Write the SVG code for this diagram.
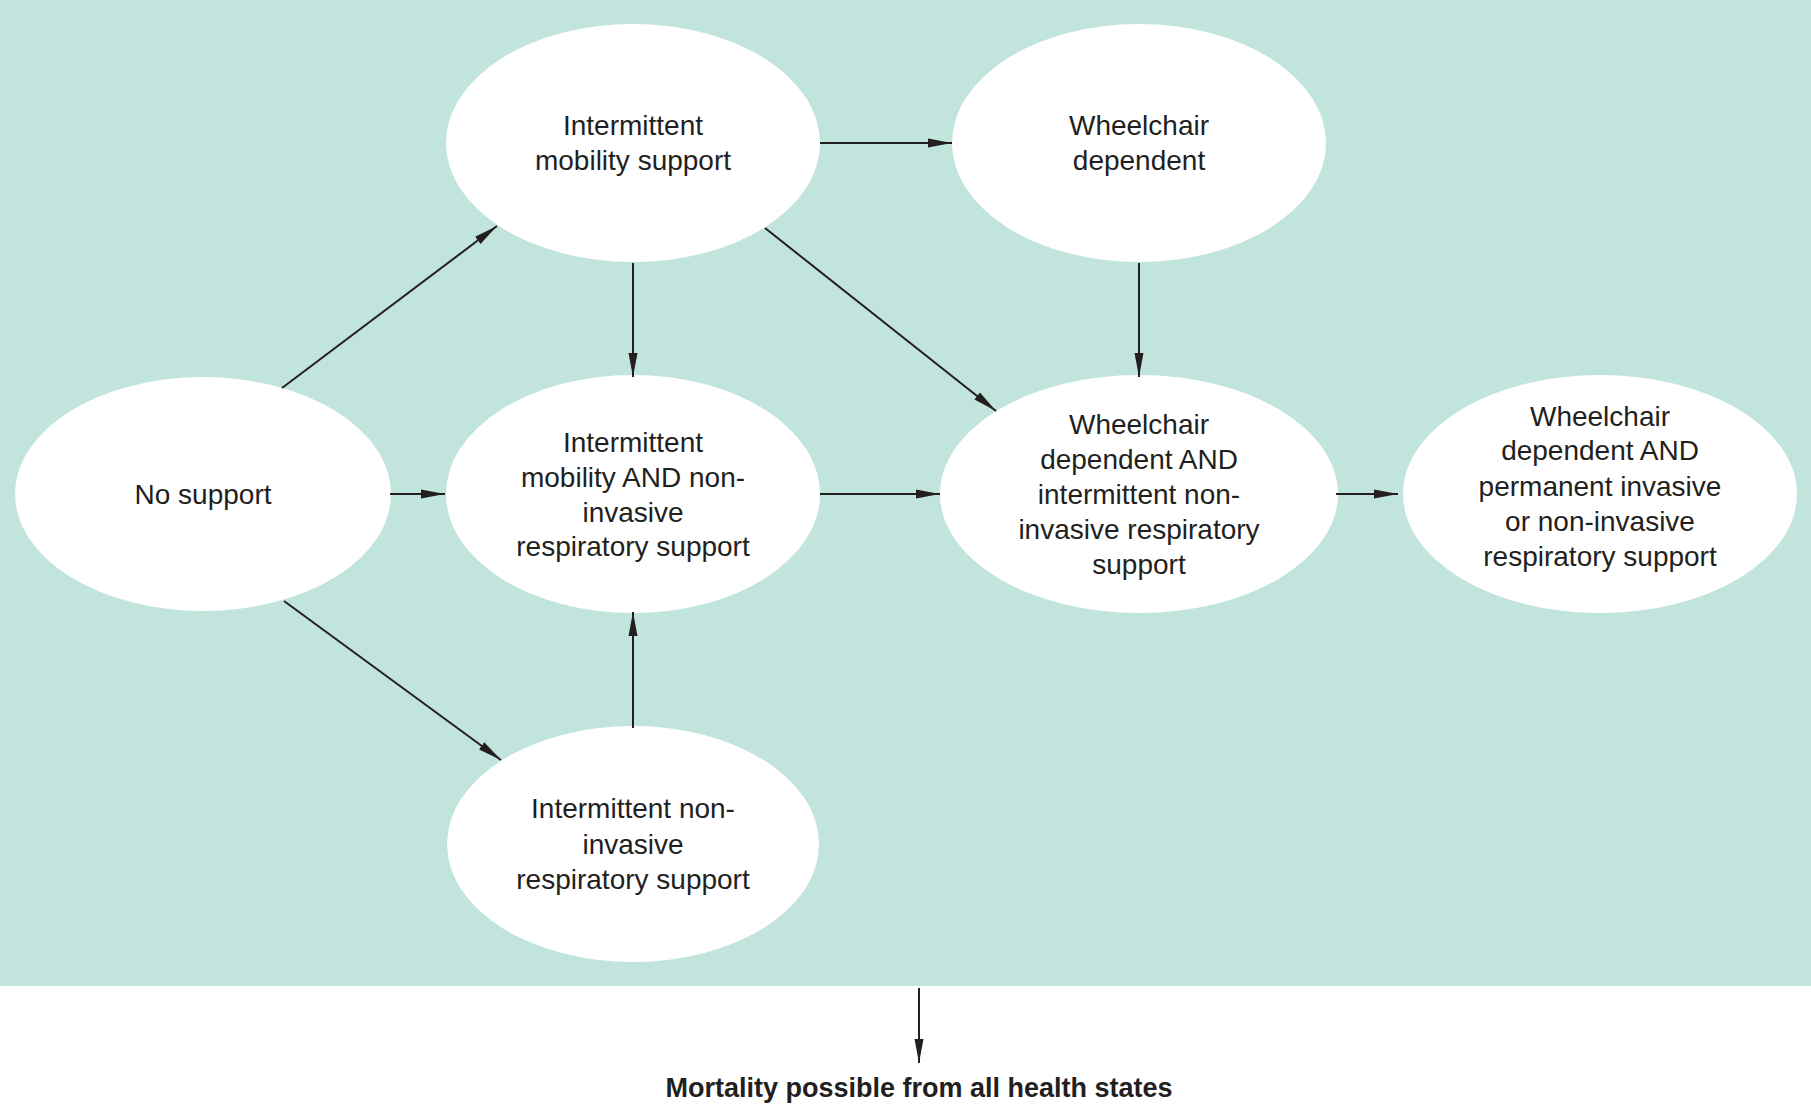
<svg xmlns="http://www.w3.org/2000/svg" width="1811" height="1104" viewBox="0 0 1811 1104">
<defs><marker id="b" viewBox="0 0 24 12" refX="24" refY="6" markerWidth="24" markerHeight="12" markerUnits="userSpaceOnUse" orient="auto"><path d="M0,1.5 L24,6 L0,10.5 Z" fill="#231f20"/></marker></defs>
<style>
ellipse{fill:#fff}
text{font-family:"Liberation Sans",Arial,sans-serif;font-size:28px;fill:#231f20;text-anchor:middle;dominant-baseline:central}
.c line{stroke:#231f20;stroke-width:2;marker-end:url(#b)}
</style>
<rect width="1811" height="1104" fill="#fff"/>
<rect width="1811" height="986" fill="#c1e4dc"/>
<g id="n1"><ellipse cx="203" cy="494" rx="188" ry="117"/><text x="203" y="494">No support</text></g>
<g id="n2"><ellipse cx="633" cy="143" rx="187" ry="119"/><text x="633" y="125">Intermittent</text><text x="633" y="160">mobility support</text></g>
<g id="n3"><ellipse cx="1139" cy="143" rx="187" ry="119"/><text x="1139" y="125">Wheelchair</text><text x="1139" y="160">dependent</text></g>
<g id="n4"><ellipse cx="633" cy="494" rx="187" ry="119"/><text x="633" y="442">Intermittent</text><text x="633" y="477">mobility AND non-</text><text x="633" y="512">invasive</text><text x="633" y="546">respiratory support</text></g>
<g id="n5"><ellipse cx="1139" cy="494" rx="199" ry="119"/><text x="1139" y="424">Wheelchair</text><text x="1139" y="459">dependent AND</text><text x="1139" y="494">intermittent non-</text><text x="1139" y="529">invasive respiratory</text><text x="1139" y="564">support</text></g>
<g id="n6"><ellipse cx="1600" cy="494" rx="197" ry="119"/><text x="1600" y="416">Wheelchair</text><text x="1600" y="450">dependent AND</text><text x="1600" y="486">permanent invasive</text><text x="1600" y="521">or non-invasive</text><text x="1600" y="556">respiratory support</text></g>
<g id="n7"><ellipse cx="633" cy="844" rx="186" ry="118"/><text x="633" y="808">Intermittent non-</text><text x="633" y="844">invasive</text><text x="633" y="879">respiratory support</text></g>
<g class="c">
<line x1="282" y1="388" x2="497" y2="226"/>
<line x1="820" y1="143" x2="952" y2="143"/>
<line x1="633" y1="263" x2="633" y2="377"/>
<line x1="765" y1="228" x2="996" y2="411"/>
<line x1="1139" y1="263" x2="1139" y2="377"/>
<line x1="390" y1="494" x2="445" y2="494"/>
<line x1="820" y1="494" x2="940" y2="494"/>
<line x1="1336" y1="494" x2="1398" y2="494"/>
<line x1="284" y1="601" x2="501" y2="760"/>
<line x1="633" y1="728" x2="633" y2="612"/>
<line x1="919" y1="988" x2="919" y2="1063"/>
</g>
<text x="919" y="1088" style="font-weight:bold;font-size:27px">Mortality possible from all health states</text>
</svg>
